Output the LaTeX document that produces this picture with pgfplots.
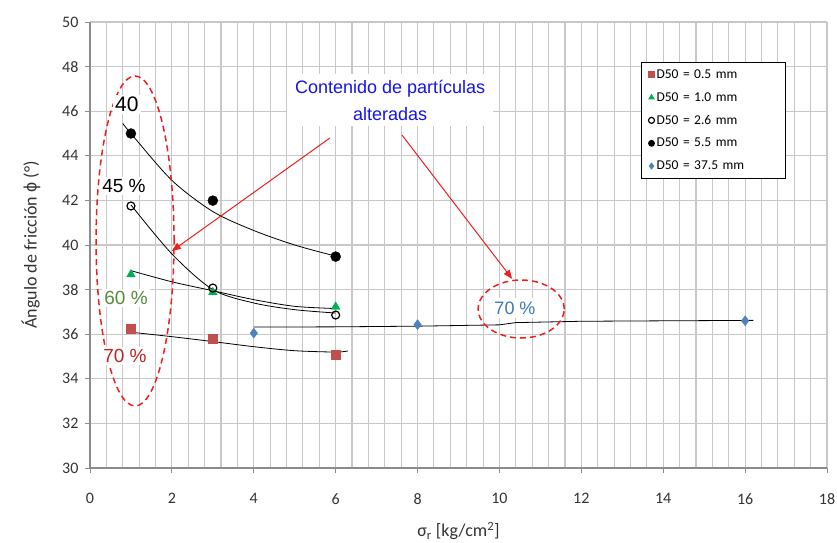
\documentclass[border=0pt]{standalone}
\usepackage{pgfplots}
\pgfplotsset{compat=1.18}
\usetikzlibrary{arrows.meta}
\usepackage{fontspec}
\setmainfont{Carlito}
\newfontfamily\arialf{Liberation Sans}

\definecolor{serRed}{HTML}{C0504D}
\definecolor{serGreen}{HTML}{00B050}
\definecolor{serBlue}{HTML}{4F81BD}
\definecolor{gridgray}{HTML}{C8C8C8}
\definecolor{axisgray}{HTML}{8C8C8C}
\definecolor{ticktext}{HTML}{333333}
\definecolor{noteBlue}{RGB}{20,20,235}
\definecolor{noteRed}{RGB}{190,35,35}
\definecolor{noteGreen}{RGB}{84,140,60}
\definecolor{noteSteel}{RGB}{58,120,190}
\definecolor{arrowRed}{RGB}{240,30,30}

\begin{document}
\begin{tikzpicture}[x=1pt,y=1pt]
\useasboundingbox (0,0) rectangle (837,542);
\begin{axis}[
  at={(90pt,74pt)}, anchor=south west,
  scale only axis, width=737pt, height=446pt,
  xmin=0, xmax=18, ymin=30, ymax=50,
  xtick={0,2,...,18}, ytick={30,32,...,50},
  minor x tick num=4,
  xmajorgrids, xminorgrids, ymajorgrids,
  grid style={draw=gridgray, line width=1.1pt},
  major grid style={draw=gridgray, line width=1.1pt},
  minor grid style={draw=gridgray, line width=1.1pt},
  axis x line*=bottom, axis y line*=left,
  axis line style={draw=axisgray, line width=1.2pt, -},
  tick align=outside, major tick length=5pt, minor tick length=0pt,
  tick style={draw=axisgray, line width=1pt},
  ticklabel style={font=\fontsize{16}{18}\selectfont, text=ticktext},
  /pgf/number format/assume math mode=true,
  xticklabel style={yshift=-17pt},
  yticklabel style={xshift=-3pt},
  xlabel={σ\textsubscript{r} [kg/cm\textsuperscript{2}]},
  ylabel={Ángulo de fricción {\arialf ϕ} (°)},
  label style={font=\fontsize{18}{20}\selectfont, text=ticktext},
  xlabel style={yshift=-11pt},
  ylabel style={yshift=15pt},
  clip=false,
  legend style={
    at={(axis cs:13.46,48.2)}, anchor=north west,
    draw=black, line width=0.8pt, fill=white,
    font=\fontsize{13.5}{15}\selectfont,
    row sep=8.5pt, inner xsep=7pt, inner ysep=5pt,
    /tikz/every even column/.append style={text width=120pt},
  },
  legend cell align=left,
  legend image post style={mark size=3pt},
]

% fitted trend curves
\addplot[black, line width=0.8pt, smooth, forget plot] coordinates {
  (1.1,36.07) (2,35.89) (3,35.67) (4,35.44) (5,35.26) (6,35.2) (6.3,35.25)};
\addplot[black, line width=0.8pt, smooth, forget plot] coordinates {
  (1,38.85) (2,38.35) (3,37.95) (4,37.55) (5,37.25) (6,37.15)};
\addplot[black, line width=0.8pt, smooth, forget plot] coordinates {
  (1,41.8) (2,39.6) (3,38.0) (4,37.4) (5,37.1) (6,36.95)};
\addplot[black, line width=0.8pt, smooth, forget plot] coordinates {
  (0.8,45.45) (1,45.0) (2,42.9) (3,41.5) (4,40.65) (5,40.0) (6,39.5)};
\addplot[black, line width=0.8pt, forget plot] coordinates {
  (4,36.32) (6,36.33) (8,36.36) (10,36.42) (10.4,36.52) (12,36.58) (14,36.6) (16.2,36.62)};

% measured points
\addplot[only marks, mark=square*, mark size=4.5pt, color=serRed] coordinates {
  (1,36.25) (3,35.78) (6,35.1)};
\addlegendentry{D50 = 0.5 mm}
\addplot[only marks, mark=triangle*, mark size=5pt, color=serGreen] coordinates {
  (1,38.68) (3,37.88) (6,37.23)};
\addlegendentry{D50 = 1.0 mm}
\addplot[only marks, mark=o, mark size=4pt, line width=1.2pt, color=black, fill=white, mark options={fill=white}] coordinates {
  (1,41.75) (3,38.07) (6,36.86)};
\addlegendentry{D50 = 2.6 mm}
\addplot[only marks, mark=*, mark size=5pt, color=black] coordinates {
  (1,45.0) (3,41.99) (6,39.48)};
\addlegendentry{D50 = 5.5 mm}
\addplot[only marks, mark=diamond*, mark size=5pt, color=serBlue] coordinates {
  (4,36.05) (8,36.43) (16,36.6)};
\addlegendentry{D50 = 37.5 mm}

% annotations
\draw[arrowRed, line width=1.5pt, dash pattern=on 6pt off 4pt]
  (axis cs:1.10,40.18) ellipse [x radius=39pt, y radius=165pt];
\draw[arrowRed, line width=1.5pt, dash pattern=on 6pt off 4pt]
  (axis cs:10.53,37.13) ellipse [x radius=43pt, y radius=29pt];

\node[fill=white, inner sep=2pt, font=\arialf\fontsize{21}{24}\selectfont] at (axis cs:0.90,46.32) {40};
\node[fill=white, inner sep=2pt, font=\arialf\fontsize{19}{22}\selectfont] at (axis cs:0.83,42.65) {45 \%};
\node[fill=white, inner sep=2pt, text=noteGreen, font=\arialf\fontsize{19}{22}\selectfont] at (axis cs:0.88,37.62) {60 \%};
\node[fill=white, inner sep=2pt, text=noteRed, font=\arialf\fontsize{19}{22}\selectfont] at (axis cs:0.855,35.02) {70 \%};
\node[fill=white, inner sep=4pt, text=noteSteel, font=\arialf\fontsize{18}{21}\selectfont] at (axis cs:10.38,37.17) {70 \%};

\node[fill=white, inner xsep=8pt, inner ysep=6pt, align=center, text=noteBlue,
  font=\arialf\fontsize{18}{27}\selectfont] at (axis cs:7.33,46.5)
  {Contenido de partículas\\alteradas};

\draw[arrowRed, line width=1pt, -{Triangle[length=9pt, width=7pt]}]
  (axis cs:5.86,44.80) -- (axis cs:2.0,39.73);
\draw[arrowRed, line width=1pt, -{Triangle[length=9pt, width=7pt]}]
  (axis cs:7.62,44.93) -- (axis cs:10.31,38.48);
\end{axis}
\end{tikzpicture}
\end{document}
